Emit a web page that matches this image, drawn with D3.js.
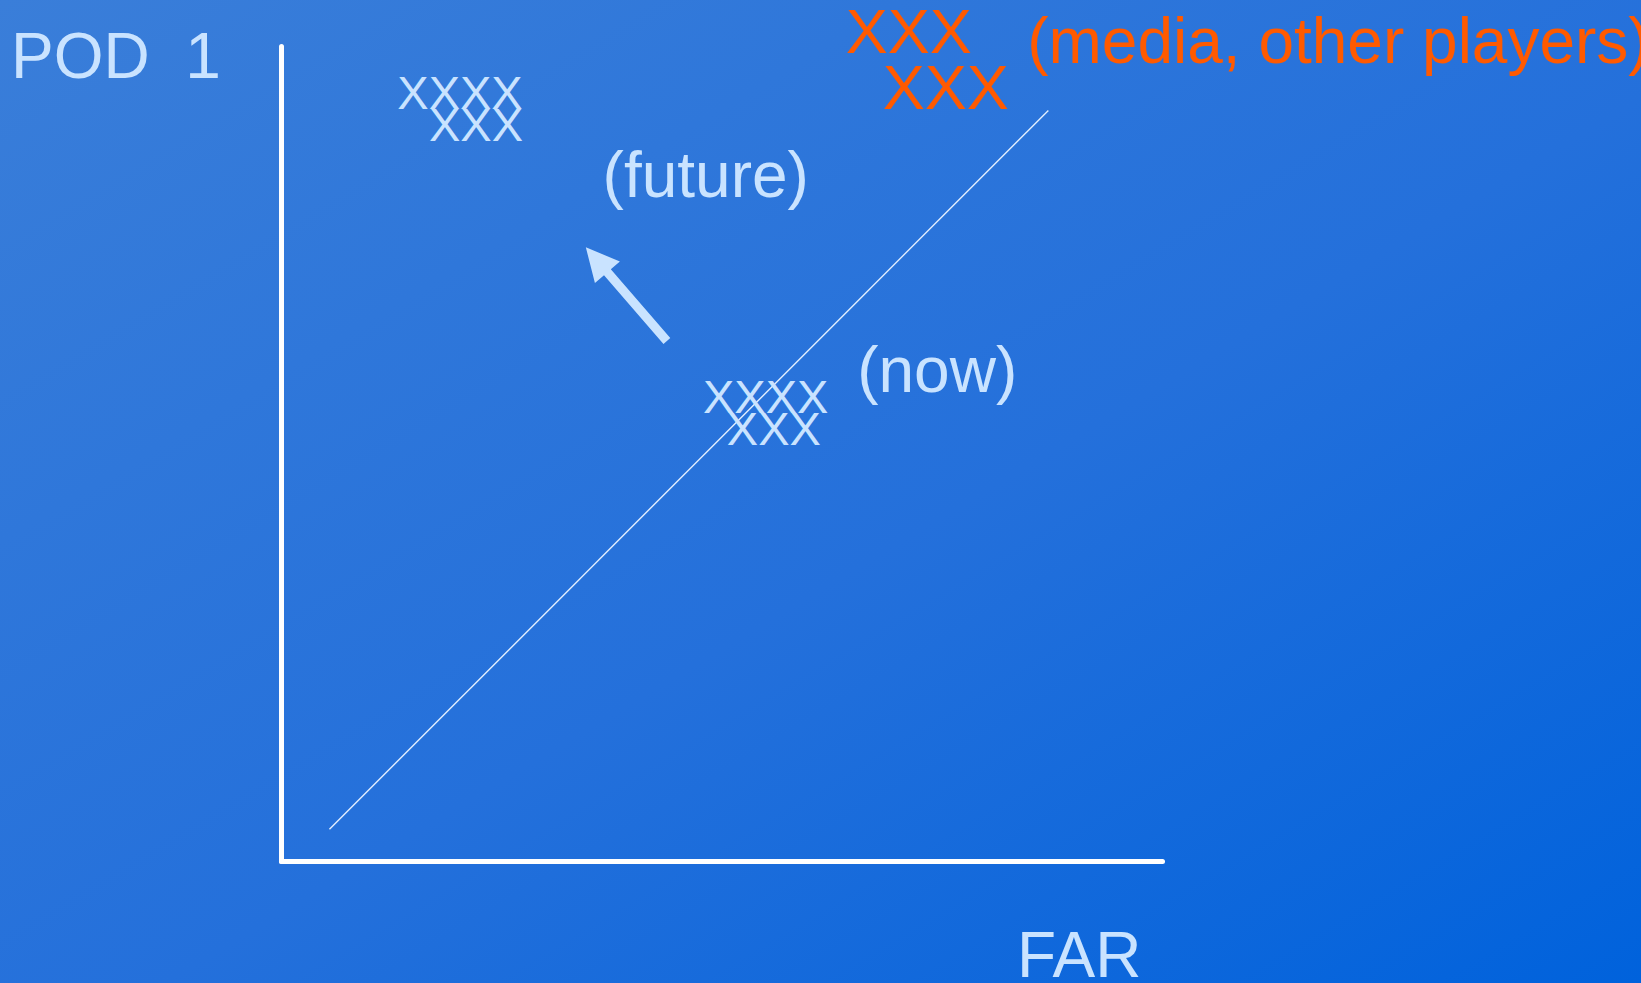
<!DOCTYPE html>
<html>
<head>
<meta charset="utf-8">
<script src="https://cdn.jsdelivr.net/npm/d3@7"></script>
<style>
  html, body { margin: 0; padding: 0; overflow: hidden; }
  svg { display: block; }
  text { font-family: "Liberation Sans", Arial, sans-serif; }
</style>
</head>
<body>
<svg id="chart" width="1641" height="983"></svg>
<script>
// ---- data (chart units 0..100 on both axes) ----
const axisTitles = ["POD  1", "FAR"];

// cluster marks drawn as text rows ("XXXX" / "XXX")
const markLabels = ["XXXX", "XXX", "XXXX", "XXX", "XXX", "XXX"];
const markGroup  = ["future", "future", "now", "now", "media", "media"];
const markX      = [13.2, 16.8, 47.9, 50.6, 64.1, 68.3];
const markY      = [92.3, 88.3, 55.0, 51.0, 99.1, 92.3];

// annotations
const noteLabels = ["(future)", "(now)", "(media, other players)"];
const noteGroup  = ["future", "now", "media"];
const noteX      = [36.5, 65.4, 84.7];
const noteY      = [81.5, 57.5, 97.9];

// diagonal reference line
const diagX = [5.5, 87.1];
const diagY = [3.9, 92.1];

// movement arrow: from "now" towards "future"
const arrowX = [43.8, 34.6];   // tail, tip
const arrowY = [63.8, 75.3];

// ---- drawing ----
const W = 1641, H = 983;
const svg = d3.select("#chart");

const defs = svg.append("defs");
const grad = defs.append("linearGradient").attr("id", "bg")
  .attr("x1", "0").attr("y1", "0").attr("x2", "1").attr("y2", "1");
grad.append("stop").attr("offset", "0%").attr("stop-color", "#3a7ed9");
grad.append("stop").attr("offset", "55%").attr("stop-color", "#2470db");
grad.append("stop").attr("offset", "100%").attr("stop-color", "#0062dc");
svg.append("rect").attr("width", W).attr("height", H).attr("fill", "url(#bg)");

const x = d3.scaleLinear().domain([0, 100]).range([281, 1162]);
const y = d3.scaleLinear().domain([0, 100]).range([861, 46]);

const light = "#c9e3ff";
const orange = "#ff5a00";

// axes (no ticks, just thick white domain lines)
const gx = svg.append("g").attr("transform", `translate(0,${y(0)})`)
  .call(d3.axisBottom(x).tickValues([]).tickSizeOuter(0));
const gy = svg.append("g").attr("transform", `translate(${x(0)},0)`)
  .call(d3.axisLeft(y).tickValues([]).tickSizeOuter(0));
[gx, gy].forEach(g => g.select(".domain")
  .attr("stroke", "#ffffff").attr("stroke-width", 5)
  .attr("stroke-linecap", "round"));

// axis titles
svg.append("text").attr("x", 11).attr("y", 78)
  .attr("font-size", 64).attr("fill", light)
  .attr("xml:space", "preserve").style("white-space", "pre")
  .text(axisTitles[0]);
svg.append("text").attr("x", 1017).attr("y", 977)
  .attr("font-size", 64).attr("fill", light)
  .text(axisTitles[1]);

// diagonal line
svg.append("line")
  .attr("x1", x(diagX[0])).attr("y1", y(diagY[0]))
  .attr("x2", x(diagX[1])).attr("y2", y(diagY[1]))
  .attr("stroke", "#e2efff").attr("stroke-width", 1.4);

// arrow polygon
(function () {
  const tx = x(arrowX[0]), ty = y(arrowY[0]);
  const px = x(arrowX[1]), py = y(arrowY[1]);
  const dx = px - tx, dy = py - ty, L = Math.hypot(dx, dy);
  const ux = dx / L, uy = dy / L, nx = -uy, ny = ux;
  const sw = 4.5, hl = 33, hw = 16.5;
  const bx = px - ux * hl, by = py - uy * hl;
  const pts = [
    [tx + nx * sw, ty + ny * sw],
    [bx + nx * sw, by + ny * sw],
    [bx + nx * hw, by + ny * hw],
    [px, py],
    [bx - nx * hw, by - ny * hw],
    [bx - nx * sw, by - ny * sw],
    [tx - nx * sw, ty - ny * sw]
  ];
  svg.append("polygon").attr("points", pts.map(p => p.join(",")).join(" "))
    .attr("fill", light);
})();

// cluster marks
const markSize = { future: 47, now: 47, media: 63 };
svg.append("g").selectAll("text").data(markLabels).join("text")
  .attr("x", (d, i) => x(markX[i]))
  .attr("y", (d, i) => y(markY[i]))
  .attr("font-size", (d, i) => markSize[markGroup[i]])
  .attr("fill", (d, i) => markGroup[i] === "media" ? orange : light)
  .text(d => d);

// annotations
svg.append("g").selectAll("text").data(noteLabels).join("text")
  .attr("x", (d, i) => x(noteX[i]))
  .attr("y", (d, i) => y(noteY[i]))
  .attr("font-size", 64)
  .attr("fill", (d, i) => noteGroup[i] === "media" ? orange : light)
  .text(d => d);
</script>
</body>
</html>
